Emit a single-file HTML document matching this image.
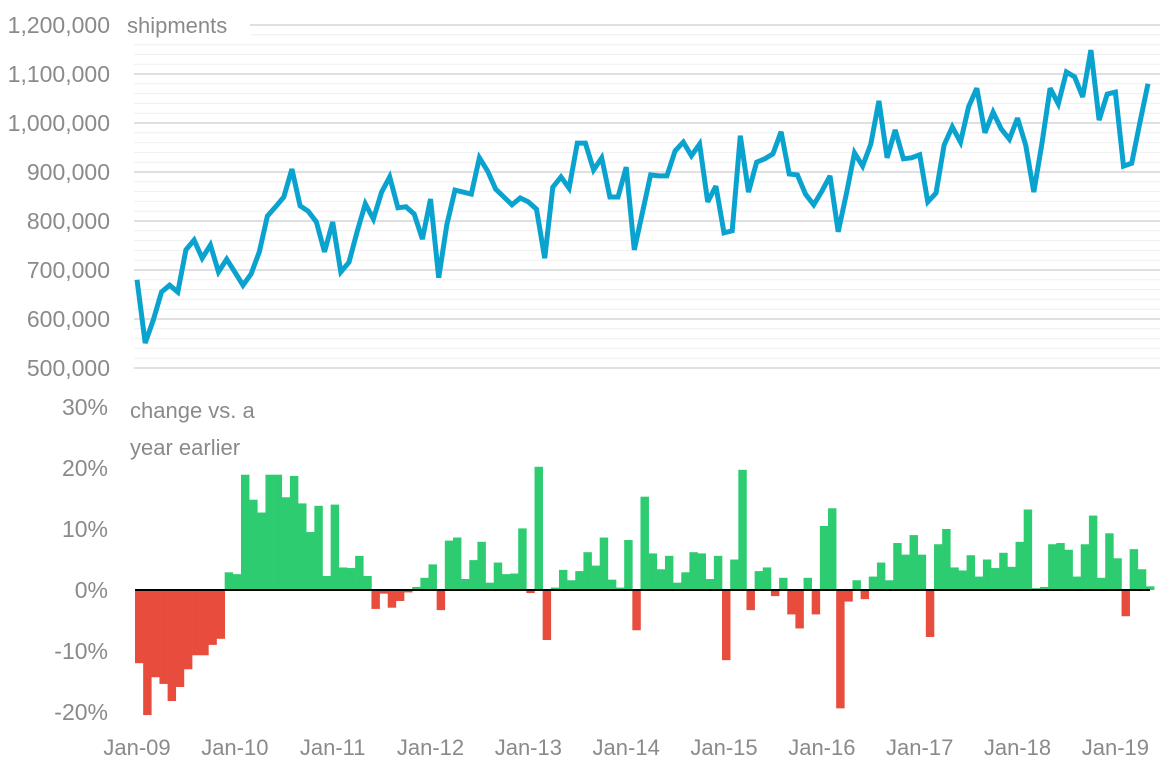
<!DOCTYPE html>
<html><head><meta charset="utf-8"><style>
body{margin:0;background:#fff;}
svg{display:block;font-family:"Liberation Sans",sans-serif;}
</style></head><body>
<svg id="chart" width="1170" height="764" viewBox="0 0 1170 764" xmlns="http://www.w3.org/2000/svg">
<g id="grid"></g>
<g id="ylabels"></g>
<g id="bars"></g>
<g id="plabels"></g>
<g id="xlabels"></g>
<rect x="125" y="8" width="125" height="32" fill="#fff"/>
<text x="127" y="33" font-size="22" fill="#8a8a8a">shipments</text>
<text x="130" y="418" font-size="22" fill="#8a8a8a">change vs. a</text>
<text x="130" y="455" font-size="22" fill="#8a8a8a">year earlier</text>
</svg>
<script>
const shipments = [680,551,598,655,669,655,741,761,724,751,696,722,696,669,692,737,810,829,849,906,831,820,798,737,798,696,716,778,835,804,
859,890,827,829,814,763,845,684,792,863,859,855,929,902,865,849,833,847,839,824,724,869,890,867,959,959,904,929,849,849,910,
741,818,894,892,892,943,961,933,957,839,871,776,780,974,859,920,927,937,982,896,894,855,833,861,892,778,855,939,912,957,1045,
929,986,927,929,935,839,857,955,992,961,1033,1071,980,1022,988,967,1010,955,859,959,1071,1039,1104,1094,1053,1149,1006,1059,1063,912,918,1000,1080];
const changes = [-12.0,-20.5,-14.3,-15.4,-18.2,-15.9,-13.0,-10.7,-10.7,-9.0,-8.0,2.9,2.6,18.9,14.8,12.7,18.9,18.9,15.2,18.7,14.2,9.5,13.8,2.3,14.0,3.7,3.6,5.6,2.3,-3.1,
-0.6,-2.9,-1.8,-0.4,0.5,2.0,4.2,-3.3,8.1,8.6,1.8,4.9,7.9,1.2,4.5,2.6,2.7,10.1,-0.5,20.2,-8.2,0.4,3.3,1.6,3.1,6.2,4.0,8.6,1.7,0.4,
8.2,-6.6,15.3,6.0,3.4,5.6,1.2,2.9,6.2,6.0,1.8,5.6,-11.5,5.0,19.7,-3.3,3.1,3.7,-1.0,2.0,-4.0,-6.3,2.0,-4.0,10.5,13.4,-19.4,-1.9,1.6,-1.5,
2.2,4.5,1.6,7.7,5.8,9.0,5.8,-7.7,7.5,10.0,3.7,3.2,5.7,2.2,5.0,3.6,6.1,3.8,7.9,13.2,0.3,0.5,7.5,7.7,6.6,2.2,7.5,12.2,2.0,9.3,5.2,-4.3,6.7,3.4,0.6];
const topTicks = [500,600,700,800,900,1000,1100,1200];
const topTickLabels = ["500,000","600,000","700,000","800,000","900,000","1,000,000","1,100,000","1,200,000"];
const pctTicks = [-20,-10,0,10,20,30];
const pctTickLabels = ["-20%","-10%","0%","10%","20%","30%"];
const xTickMonths = [0,12,24,36,48,60,72,84,96,108,120];
const xTickLabels = ["Jan-09","Jan-10","Jan-11","Jan-12","Jan-13","Jan-14","Jan-15","Jan-16","Jan-17","Jan-18","Jan-19"];

const NS="http://www.w3.org/2000/svg";
const step=8.153;
const xLine=i=>137+i*step;
const yTop=v=>368-(v-500)*0.49;
const yPct=p=>590-p*6.1;
function mk(tag,attrs,parent){const e=document.createElementNS(NS,tag);for(const k in attrs)e.setAttribute(k,attrs[k]);parent.appendChild(e);return e;}

const grid=document.getElementById('grid');
for(let v=500;v<=1200;v+=20){
  const major=(v%100===0);
  const l=mk('line',{x1:134,x2:1160,y1:yTop(v),y2:yTop(v),stroke:major?'#d6d6d6':'#efefef','stroke-width':major?1.5:1},grid);
  
  
}
const yl=document.getElementById('ylabels');
topTicks.forEach((v,i)=>{
  const t=mk('text',{x:110,y:yTop(v)+8,'text-anchor':'end','font-size':23,fill:'#8a8a8a'},yl);
  t.textContent=topTickLabels[i];
  
  
});
const pl=document.getElementById('plabels');
pctTicks.forEach((p,i)=>{
  const t=mk('text',{x:108,y:yPct(p)+8,'text-anchor':'end','font-size':23,fill:'#8a8a8a'},pl);
  t.textContent=pctTickLabels[i];
  
  
});
const xl=document.getElementById('xlabels');
xTickMonths.forEach((m,i)=>{
  const t=mk('text',{x:xLine(m),y:755,'text-anchor':'middle','font-size':22,fill:'#8a8a8a'},xl);
  t.textContent=xTickLabels[i];
  
  
});
const bars=document.getElementById('bars');
changes.forEach((p,i)=>{
  const x=135+i*step;
  const y0=yPct(0), y1=yPct(p);
  const r=mk('rect',{x:x,y:Math.min(y0,y1),width:step+0.3,height:Math.abs(y1-y0),fill:p>=0?'#2ecc71':'#e74c3c'},bars);
  
  
});
const zl=mk('line',{x1:135,x2:1150,y1:590,y2:590,stroke:'#000','stroke-width':2},document.getElementById('chart'));


const pts=shipments.map((v,i)=>xLine(i).toFixed(1)+','+yTop(v).toFixed(1)).join(' ');
const pl2=mk('polyline',{points:pts,fill:'none',stroke:'#0aa2cf','stroke-width':5,'stroke-linejoin':'miter','stroke-miterlimit':3},document.getElementById('chart'));


</script>
</body></html>
